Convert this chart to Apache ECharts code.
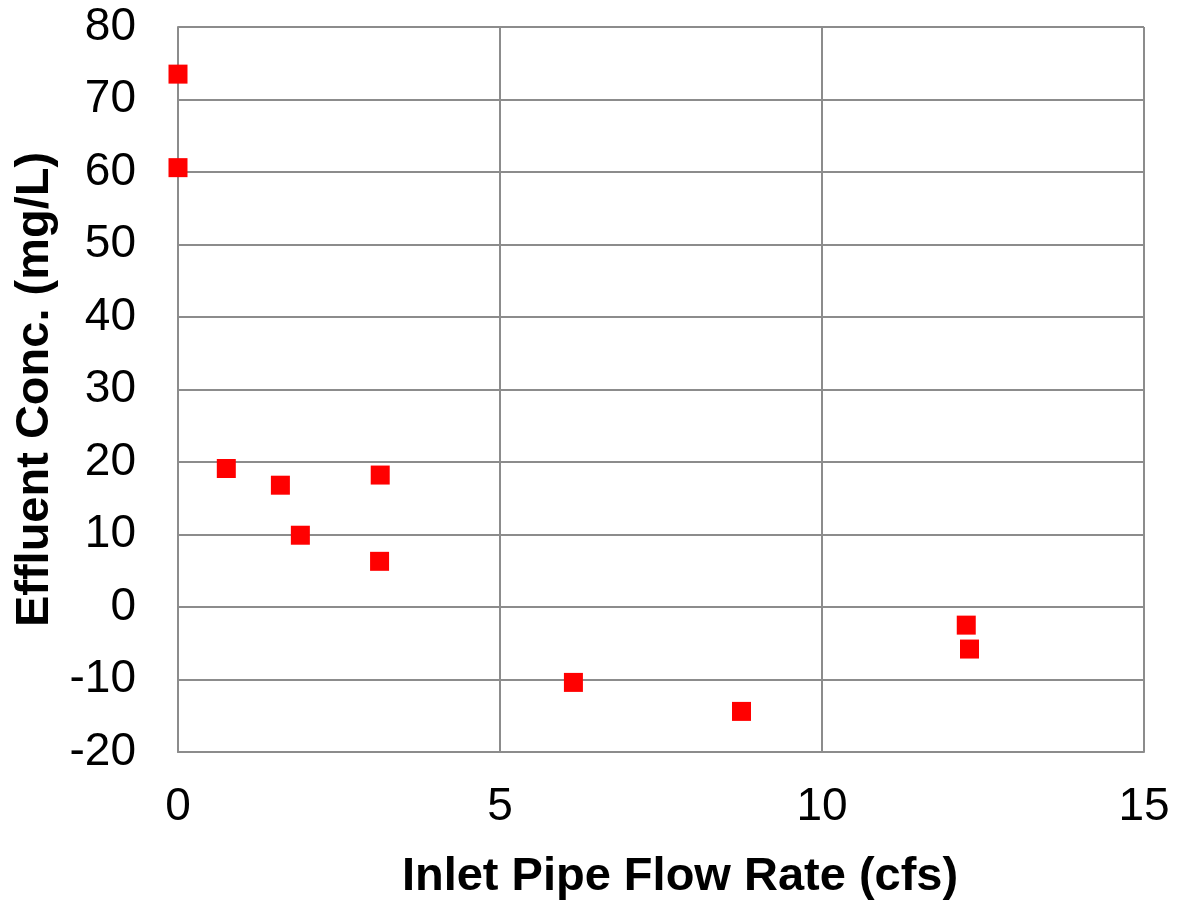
<!DOCTYPE html>
<html>
<head>
<meta charset="utf-8">
<script src="https://cdn.jsdelivr.net/npm/echarts@6/dist/echarts.min.js"></script>
<style>
  html, body { margin: 0; padding: 0; background: #fff; }
  #chart { width: 1177px; height: 903px; }
</style>
</head>
<body>
<div id="chart"></div>
<script>
// flow rate (cfs) and effluent concentration (mg/L)
const flowRate = [0, 0, 0.75, 1.59, 1.90, 3.14, 3.13, 6.14, 8.75, 12.24, 12.29]
const effluentConc = [73.5, 60.6, 19.1, 16.8, 9.9, 18.2, 6.3, -10.4, -14.4, -2.5, -5.8]
const xTicks = [0, 5, 10, 15]
const yTicks = [-20, -10, 0, 10, 20, 30, 40, 50, 60, 70, 80]

const points = flowRate.map((x, i) => [x, effluentConc[i]])

const gridLine = { lineStyle: { color: '#8c8c8c', width: 2 } }

const myChart = echarts.init(document.getElementById('chart'))
const options = {
  backgroundColor: '#FFF',
  animation: false,
  grid: { left: 178, top: 27, width: 966, height: 725, containLabel: false, outerBoundsMode: 'none' },
  xAxis: {
    type: 'value',
    min: xTicks[0],
    max: xTicks[xTicks.length - 1],
    interval: 5,
    name: 'Inlet Pipe Flow Rate (cfs)',
    nameLocation: 'middle',
    nameGap: 102,
    nameTextStyle: { fontFamily: 'Liberation Sans', fontWeight: 'bold', fontSize: 47, color: '#000', padding: [0, 0, 0, 38] },
    axisLine: { show: true, onZero: false, lineStyle: { color: '#8c8c8c', width: 2 } },
    axisTick: { show: false },
    axisLabel: { fontFamily: 'Liberation Sans', fontSize: 46, color: '#000', margin: 32 },
    splitLine: gridLine
  },
  yAxis: {
    type: 'value',
    min: yTicks[0],
    max: yTicks[yTicks.length - 1],
    interval: 10,
    name: 'Effluent Conc. (mg/L)',
    nameLocation: 'middle',
    nameGap: 118,
    nameRotate: 90,
    nameTextStyle: { fontFamily: 'Liberation Sans', fontWeight: 'bold', fontSize: 47, color: '#000' },
    axisLine: { show: true, onZero: false, lineStyle: { color: '#8c8c8c', width: 2 } },
    axisTick: { show: false },
    axisLabel: { fontFamily: 'Liberation Sans', fontSize: 46, color: '#000', margin: 42 },
    splitLine: gridLine
  },
  series: [
    {
      type: 'scatter',
      symbol: 'rect',
      symbolSize: 19,
      itemStyle: { color: '#FF0000', opacity: 1 },
      data: points
    }
  ]
}
myChart.setOption(options)
</script>
</body>
</html>
